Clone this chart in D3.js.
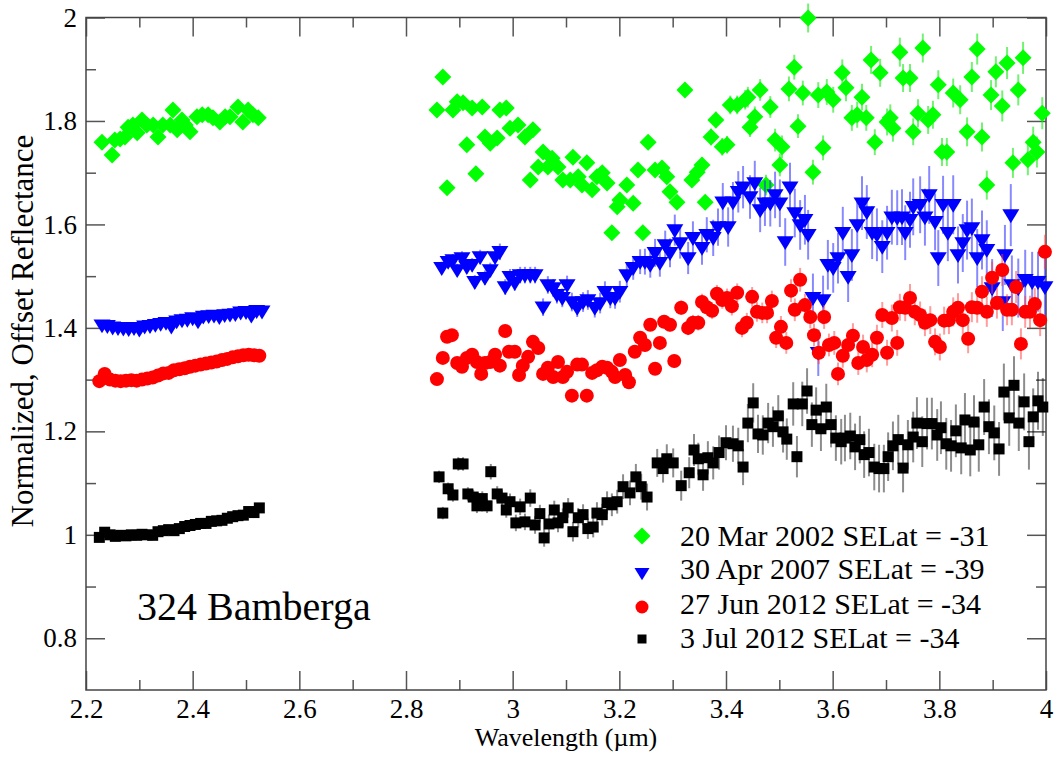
<!DOCTYPE html>
<html>
<head>
<meta charset="utf-8">
<script src="https://cdn.jsdelivr.net/npm/d3@7"></script>
<style>
body { margin: 0; background: #fff; }
svg, svg text { font-family: "Liberation Serif", "Times New Roman", Times, serif; fill: #000; }
</style>
</head>
<body>
<svg id="canvas"></svg>
<script>
let width = 1060
let height = 757
let fontName = '"Liberation Serif", "Times New Roman", Times, serif'

let seriesNames = ['20 Mar 2002 SELat = -31', '30 Apr 2007 SELat = -39', '27 Jun 2012 SELat = -34', '3 Jul 2012 SELat = -34']
let xMajor = [2.2, 2.4, 2.6, 2.8, 3, 3.2, 3.4, 3.6, 3.8, 4]
let xMinor = [2.3, 2.5, 2.7, 2.9, 3.1, 3.3, 3.5, 3.7, 3.9]
let yMajor = [0.8, 1, 1.2, 1.4, 1.6, 1.8, 2]
let yMinor = [0.9, 1.1, 1.3, 1.5, 1.7, 1.9]

// [wavelength, reflectance, error]
let mar2002 = [
  [2.230,1.759,.003],[2.249,1.734,.003],[2.254,1.763,.003],[2.264,1.765,.003],[2.273,1.769,.003],[2.279,1.788,.003],[2.288,1.792,.003],[2.296,1.777,.003],[2.305,1.802,.003],[2.314,1.792,.003],[2.326,1.792,.003],[2.335,1.769,.003],[2.344,1.792,.003],[2.358,1.792,.003],[2.363,1.821,.004],[2.371,1.783,.003],[2.380,1.802,.003],[2.386,1.792,.003],[2.395,1.779,.003],[2.408,1.808,.004],[2.418,1.812,.004],[2.429,1.812,.004],[2.438,1.806,.004],[2.451,1.798,.004],[2.461,1.808,.004],[2.470,1.808,.004],[2.485,1.827,.004],[2.494,1.798,.004],[2.504,1.821,.004],[2.513,1.812,.004],[2.523,1.806,.004],
  [2.858,1.821,.006],[2.869,1.885,.006],[2.877,1.671,.006],[2.888,1.821,.006],[2.896,1.837,.006],[2.907,1.835,.006],[2.914,1.754,.007],[2.924,1.825,.006],[2.931,1.698,.007],[2.943,1.827,.007],[2.948,1.769,.007],[2.958,1.757,.007],[2.971,1.767,.007],[2.976,1.821,.007],[2.988,1.825,.007],[2.995,1.786,.007],[3.010,1.792,.008],[3.023,1.769,.008],[3.033,1.686,.008],[3.038,1.783,.008],[3.048,1.711,.008],[3.057,1.740,.008],[3.066,1.711,.008],[3.074,1.728,.008],[3.085,1.711,.008],[3.094,1.686,.008],[3.108,1.686,.009],[3.113,1.730,.009],[3.123,1.692,.009],[3.130,1.676,.009],[3.139,1.719,.009],[3.149,1.667,.009],[3.158,1.692,.009],[3.168,1.700,.009],[3.177,1.680,.010],[3.186,1.584,.010],[3.196,1.634,.010],[3.201,1.647,.010],[3.214,1.676,.010],[3.226,1.641,.011],[3.235,1.705,.011],[3.244,1.584,.011],[3.254,1.759,.011],[3.267,1.705,.012],[3.280,1.709,.012],[3.289,1.692,.012],[3.295,1.663,.012],[3.308,1.643,.013],[3.323,1.860,.014],[3.336,1.686,.013],[3.346,1.701,.014],[3.355,1.715,.015],[3.361,1.643,.014],[3.372,1.769,.016],[3.381,1.802,.016],[3.393,1.750,.017],[3.402,1.754,.017],[3.408,1.831,.018],[3.421,1.831,.018],[3.436,1.841,.019],[3.441,1.846,.020],[3.445,1.788,.019],[3.454,1.808,.020],[3.464,1.860,.021],[3.475,1.676,.020],[3.483,1.827,.021],[3.492,1.763,.022],[3.501,1.715,.022],[3.505,1.750,.022],[3.518,1.862,.024],[3.528,1.904,.024],[3.535,1.790,.023],[3.544,1.854,.024],[3.554,1.999,.028],[3.563,1.701,.024],[3.573,1.850,.025],[3.582,1.748,.024],[3.589,1.856,.025],[3.601,1.841,.025],[3.618,1.893,.026],[3.625,1.864,.026],[3.636,1.806,.025],[3.646,1.812,.025],[3.655,1.846,.026],[3.663,1.806,.025],[3.672,1.918,.027],[3.679,1.759,.025],[3.689,1.893,.027],[3.702,1.798,.026],[3.708,1.806,.026],[3.713,1.786,.026],[3.726,1.933,.028],[3.732,1.883,.027],[3.745,1.883,.027],[3.751,1.779,.026],[3.760,1.815,.027],[3.769,1.941,.028],[3.779,1.802,.027],[3.788,1.812,.027],[3.798,1.870,.028],[3.805,1.740,.027],[3.814,1.740,.027],[3.826,1.854,.028],[3.839,1.841,.028],[3.852,1.779,.028],[3.861,1.885,.029],[3.871,1.939,.030],[3.880,1.769,.028],[3.889,1.676,.028],[3.897,1.850,.029],[3.906,1.895,.030],[3.918,1.829,.030],[3.927,1.912,.031],[3.938,1.719,.029],[3.948,1.860,.030],[3.957,1.922,.031],[3.966,1.725,.030],[3.976,1.759,.030],[3.983,1.740,.030],[3.993,1.815,.031]
]

let apr2007 = [
  [2.23,1.405,.003],[2.24,1.404,.003],[2.25,1.401,.003],[2.26,1.400,.003],[2.27,1.399,.003],[2.28,1.398,.003],[2.29,1.400,.003],[2.30,1.397,.003],[2.31,1.403,.003],[2.32,1.404,.003],[2.33,1.406,.003],[2.34,1.408,.003],[2.35,1.410,.003],[2.36,1.403,.003],[2.37,1.413,.003],[2.38,1.415,.003],[2.39,1.416,.003],[2.40,1.419,.003],[2.41,1.413,.003],[2.42,1.422,.003],[2.43,1.423,.003],[2.44,1.424,.003],[2.45,1.421,.003],[2.46,1.425,.003],[2.47,1.426,.003],[2.48,1.427,.003],[2.49,1.430,.003],[2.50,1.431,.003],[2.51,1.424,.003],[2.52,1.433,.003],[2.53,1.432,.003],
  [2.867,1.516,.012],[2.879,1.528,.012],[2.888,1.531,.012],[2.896,1.512,.012],[2.905,1.535,.013],[2.914,1.518,.013],[2.924,1.522,.013],[2.929,1.489,.013],[2.939,1.537,.014],[2.948,1.497,.014],[2.958,1.512,.014],[2.967,1.537,.015],[2.976,1.547,.016],[2.986,1.479,.015],[2.995,1.499,.015],[3.004,1.487,.015],[3.014,1.502,.016],[3.023,1.502,.016],[3.033,1.502,.016],[3.042,1.502,.016],[3.057,1.440,.017],[3.066,1.483,.017],[3.076,1.477,.017],[3.083,1.464,.017],[3.093,1.458,.018],[3.102,1.483,.018],[3.111,1.450,.018],[3.121,1.439,.018],[3.132,1.450,.019],[3.141,1.454,.019],[3.154,1.439,.019],[3.164,1.448,.020],[3.173,1.470,.020],[3.183,1.458,.020],[3.192,1.458,.021],[3.201,1.470,.021],[3.214,1.502,.022],[3.226,1.516,.023],[3.239,1.528,.024],[3.248,1.528,.025],[3.258,1.522,.025],[3.267,1.545,.027],[3.276,1.526,.027],[3.286,1.560,.028],[3.295,1.545,.028],[3.304,1.589,.030],[3.314,1.564,.030],[3.329,1.535,.031],[3.338,1.574,.032],[3.355,1.555,.033],[3.364,1.580,.034],[3.376,1.574,.035],[3.385,1.595,.036],[3.394,1.643,.037],[3.404,1.595,.038],[3.413,1.643,.039],[3.423,1.663,.040],[3.432,1.672,.041],[3.445,1.653,.042],[3.454,1.680,.043],[3.464,1.628,.043],[3.473,1.641,.044],[3.483,1.641,.045],[3.492,1.657,.045],[3.501,1.641,.046],[3.511,1.566,.046],[3.520,1.672,.047],[3.529,1.622,.047],[3.539,1.599,.048],[3.548,1.609,.048],[3.554,1.580,.048],[3.563,1.458,.047],[3.573,1.352,.045],[3.582,1.454,.047],[3.591,1.522,.048],[3.601,1.516,.048],[3.610,1.535,.049],[3.619,1.584,.050],[3.629,1.499,.049],[3.636,1.541,.050],[3.646,1.599,.051],[3.655,1.641,.052],[3.664,1.624,.052],[3.674,1.584,.051],[3.683,1.580,.051],[3.693,1.557,.051],[3.702,1.584,.052],[3.711,1.614,.053],[3.721,1.613,.053],[3.730,1.614,.054],[3.736,1.584,.053],[3.745,1.609,.054],[3.751,1.634,.055],[3.764,1.638,.055],[3.773,1.614,.055],[3.781,1.657,.056],[3.792,1.605,.055],[3.798,1.535,.054],[3.807,1.638,.056],[3.816,1.584,.055],[3.826,1.638,.057],[3.835,1.541,.055],[3.844,1.564,.056],[3.852,1.589,.057],[3.861,1.593,.057],[3.871,1.535,.056],[3.880,1.570,.057],[3.889,1.551,.057],[3.899,1.477,.056],[3.919,1.450,.056],[3.923,1.541,.058],[3.934,1.618,.060],[3.936,1.483,.057],[3.948,1.477,.057],[3.961,1.493,.058],[3.974,1.489,.058],[3.985,1.489,.058],[3.998,1.479,.058]
]

let jun2012 = [
  [2.225,1.297,.003],[2.235,1.311,.003],[2.245,1.300,.003],[2.255,1.298,.003],[2.265,1.297,.003],[2.275,1.298,.003],[2.285,1.299,.003],[2.295,1.298,.003],[2.305,1.300,.003],[2.315,1.302,.003],[2.325,1.304,.003],[2.335,1.308,.003],[2.345,1.312,.003],[2.355,1.313,.003],[2.365,1.318,.003],[2.375,1.320,.003],[2.385,1.322,.003],[2.395,1.325,.003],[2.405,1.327,.003],[2.415,1.329,.003],[2.425,1.331,.003],[2.435,1.333,.003],[2.445,1.335,.003],[2.455,1.338,.003],[2.465,1.340,.003],[2.475,1.343,.003],[2.485,1.345,.003],[2.495,1.347,.003],[2.505,1.348,.003],[2.515,1.347,.003],[2.525,1.346,.003],
  [2.858,1.301,.005],[2.869,1.342,.005],[2.877,1.383,.005],[2.886,1.386,.005],[2.896,1.332,.005],[2.905,1.325,.005],[2.914,1.342,.005],[2.924,1.348,.006],[2.933,1.334,.006],[2.941,1.311,.006],[2.948,1.332,.006],[2.958,1.334,.006],[2.967,1.348,.006],[2.976,1.327,.006],[2.986,1.394,.006],[2.993,1.354,.006],[3.004,1.354,.007],[3.012,1.309,.007],[3.019,1.327,.007],[3.029,1.344,.007],[3.038,1.373,.007],[3.048,1.361,.007],[3.057,1.311,.007],[3.066,1.323,.007],[3.076,1.305,.008],[3.085,1.334,.008],[3.094,1.305,.008],[3.102,1.315,.008],[3.111,1.269,.008],[3.121,1.329,.008],[3.130,1.329,.008],[3.139,1.269,.008],[3.149,1.313,.009],[3.158,1.318,.009],[3.168,1.325,.009],[3.177,1.323,.009],[3.186,1.315,.009],[3.192,1.305,.010],[3.201,1.338,.010],[3.211,1.309,.010],[3.218,1.295,.010],[3.229,1.354,.011],[3.239,1.381,.011],[3.248,1.367,.011],[3.258,1.406,.012],[3.267,1.321,.012],[3.276,1.371,.012],[3.284,1.412,.013],[3.295,1.406,.013],[3.303,1.336,.013],[3.316,1.439,.014],[3.329,1.400,.014],[3.338,1.410,.015],[3.348,1.410,.015],[3.355,1.450,.016],[3.364,1.440,.016],[3.374,1.433,.016],[3.383,1.466,.017],[3.393,1.454,.017],[3.402,1.458,.018],[3.411,1.442,.018],[3.421,1.468,.018],[3.430,1.400,.018],[3.439,1.410,.019],[3.449,1.460,.019],[3.458,1.431,.019],[3.468,1.429,.020],[3.477,1.429,.020],[3.486,1.452,.020],[3.494,1.381,.020],[3.503,1.402,.021],[3.513,1.371,.021],[3.522,1.472,.022],[3.529,1.435,.022],[3.539,1.493,.023],[3.548,1.444,.022],[3.558,1.421,.022],[3.565,1.386,.022],[3.574,1.352,.022],[3.584,1.421,.023],[3.593,1.367,.022],[3.603,1.371,.023],[3.610,1.311,.022],[3.619,1.346,.023],[3.629,1.367,.023],[3.638,1.385,.024],[3.648,1.332,.023],[3.657,1.363,.024],[3.664,1.338,.024],[3.674,1.348,.024],[3.683,1.381,.025],[3.693,1.425,.025],[3.702,1.352,.025],[3.711,1.419,.026],[3.721,1.371,.025],[3.726,1.440,.026],[3.736,1.439,.026],[3.745,1.458,.027],[3.754,1.431,.026],[3.764,1.425,.026],[3.773,1.410,.026],[3.783,1.415,.027],[3.792,1.373,.026],[3.801,1.363,.026],[3.809,1.414,.027],[3.818,1.415,.027],[3.826,1.431,.028],[3.835,1.439,.028],[3.844,1.415,.028],[3.854,1.379,.028],[3.861,1.440,.029],[3.871,1.439,.029],[3.880,1.470,.030],[3.889,1.431,.029],[3.899,1.497,.031],[3.908,1.448,.030],[3.918,1.512,.031],[3.927,1.435,.030],[3.936,1.435,.030],[3.944,1.479,.031],[3.953,1.369,.030],[3.961,1.431,.031],[3.970,1.431,.031],[3.979,1.446,.031],[3.989,1.415,.031],[3.998,1.547,.033]
]

let jul2012 = [
  [2.225,0.995,.003],[2.235,1.005,.003],[2.245,1.000,.003],[2.255,0.997,.003],[2.265,0.999,.003],[2.275,0.998,.003],[2.285,1.000,.003],[2.295,0.999,.003],[2.305,1.001,.003],[2.315,1.000,.003],[2.325,0.999,.003],[2.335,1.006,.003],[2.345,1.008,.003],[2.355,1.010,.003],[2.365,1.008,.003],[2.375,1.012,.003],[2.385,1.016,.003],[2.395,1.018,.003],[2.405,1.020,.003],[2.415,1.022,.003],[2.425,1.022,.003],[2.435,1.026,.003],[2.445,1.027,.003],[2.455,1.028,.003],[2.465,1.032,.003],[2.475,1.035,.003],[2.485,1.037,.003],[2.495,1.038,.003],[2.505,1.045,.003],[2.515,1.043,.003],[2.525,1.052,.003],
  [2.862,1.112,.012],[2.869,1.042,.012],[2.879,1.089,.012],[2.888,1.077,.013],[2.898,1.137,.013],[2.907,1.137,.013],[2.916,1.079,.013],[2.926,1.073,.014],[2.933,1.056,.014],[2.943,1.070,.014],[2.952,1.056,.014],[2.959,1.122,.015],[2.971,1.079,.015],[2.980,1.071,.015],[2.988,1.048,.015],[2.995,1.064,.016],[3.006,1.023,.016],[3.014,1.054,.016],[3.023,1.025,.016],[3.033,1.071,.017],[3.042,1.019,.017],[3.051,1.041,.017],[3.059,0.994,.017],[3.068,1.021,.018],[3.078,1.048,.018],[3.085,1.023,.018],[3.094,1.033,.018],[3.104,1.052,.019],[3.113,1.006,.019],[3.123,1.033,.019],[3.132,1.039,.020],[3.141,1.012,.020],[3.151,1.015,.020],[3.158,1.042,.021],[3.168,1.039,.021],[3.177,1.062,.022],[3.186,1.058,.022],[3.196,1.064,.023],[3.207,1.093,.024],[3.220,1.081,.024],[3.231,1.112,.025],[3.241,1.093,.025],[3.252,1.073,.026],[3.271,1.139,.027],[3.282,1.128,.027],[3.289,1.147,.028],[3.301,1.139,.028],[3.316,1.095,.029],[3.331,1.120,.030],[3.340,1.164,.031],[3.348,1.147,.031],[3.357,1.116,.031],[3.366,1.149,.032],[3.376,1.139,.032],[3.387,1.159,.033],[3.400,1.178,.034],[3.413,1.176,.035],[3.423,1.172,.035],[3.432,1.131,.035],[3.441,1.216,.037],[3.451,1.255,.038],[3.460,1.195,.037],[3.469,1.193,.038],[3.479,1.216,.039],[3.488,1.209,.039],[3.498,1.230,.040],[3.507,1.199,.040],[3.514,1.185,.040],[3.526,1.253,.042],[3.533,1.151,.040],[3.543,1.253,.043],[3.552,1.278,.044],[3.561,1.213,.043],[3.569,1.241,.044],[3.578,1.205,.043],[3.588,1.247,.045],[3.597,1.213,.044],[3.606,1.187,.044],[3.616,1.180,.044],[3.623,1.187,.045],[3.633,1.191,.045],[3.642,1.170,.045],[3.651,1.184,.046],[3.659,1.155,.045],[3.668,1.159,.046],[3.678,1.131,.045],[3.687,1.128,.046],[3.696,1.128,.046],[3.704,1.151,.047],[3.713,1.172,.047],[3.723,1.184,.048],[3.732,1.129,.047],[3.741,1.174,.048],[3.751,1.189,.049],[3.758,1.216,.050],[3.768,1.180,.049],[3.777,1.215,.050],[3.786,1.215,.050],[3.796,1.193,.050],[3.803,1.207,.051],[3.813,1.176,.050],[3.822,1.172,.050],[3.831,1.201,.051],[3.841,1.168,.051],[3.848,1.222,.052],[3.858,1.164,.051],[3.865,1.218,.052],[3.874,1.174,.052],[3.884,1.247,.054],[3.893,1.209,.053],[3.903,1.197,.053],[3.912,1.166,.052],[3.921,1.276,.055],[3.931,1.226,.054],[3.940,1.289,.056],[3.949,1.216,.054],[3.959,1.257,.055],[3.968,1.180,.054],[3.976,1.228,.055],[3.985,1.259,.056],[3.994,1.247,.056]
]

let plotLeft = 86
let plotRight = 1046
let plotTop = 17.5
let plotBottom = 690

let svg = d3.select('#canvas')
svg.attr('width', width)
svg.attr('height', height)
svg.attr('font-family', fontName)

let xScale = d3.scaleLinear().domain([2.2, 4]).range([plotLeft, plotRight])
let yScale = d3.scaleLinear().domain([0.7, 2]).range([plotBottom, plotTop])

let shapes = {
    diamond: (s) => `M0,${-s}L${s},0L0,${s}L${-s},0Z`,
    triangle: (s) => `M${-s},${-s * 0.68}L${s},${-s * 0.68}L0,${s * 0.95}Z`,
    circle: (s) => `M${-s},0A${s},${s} 0 1,0 ${s},0A${s},${s} 0 1,0 ${-s},0Z`,
    square: (s) => `M${-s},${-s}H${s}V${s}H${-s}Z`
}

let series = [
    { name: seriesNames[0], data: mar2002, color: '#00ff00', bar: 'rgba(0,230,0,0.55)', shape: 'diamond', size: 8.5, legendSize: 8.5 },
    { name: seriesNames[1], data: apr2007, color: '#0000ff', bar: 'rgba(40,40,255,0.55)', shape: 'triangle', size: 8.5, legendSize: 7.5 },
    { name: seriesNames[2], data: jun2012, color: '#ff0000', bar: 'rgba(255,60,60,0.5)', shape: 'circle', size: 7, legendSize: 6.5 },
    { name: seriesNames[3], data: jul2012, color: '#000000', bar: 'rgba(0,0,0,0.45)', shape: 'square', size: 5.5, legendSize: 4.5 }
]

let drawAxes = () => {
    let styleTicks = (g) => {
        g.attr('font-family', fontName)
        g.select('.domain').remove()
        g.selectAll('line').attr('stroke', '#555').attr('stroke-width', 1.5)
        g.selectAll('text').attr('font-size', 27).attr('font-family', fontName).attr('fill', '#000')
    }

    svg.append('g')
        .attr('transform', 'translate(0,' + plotBottom + ')')
        .call(d3.axisBottom(xScale).tickValues(xMajor).tickSize(-19).tickPadding(9).tickFormat(d3.format('~g')))
        .call(styleTicks)
    svg.append('g')
        .attr('transform', 'translate(0,' + plotBottom + ')')
        .call(d3.axisBottom(xScale).tickValues(xMinor).tickSize(-10).tickFormat(''))
        .call(styleTicks)
    svg.append('g')
        .attr('transform', 'translate(0,' + plotTop + ')')
        .call(d3.axisTop(xScale).tickValues(xMajor).tickSize(-19).tickFormat(''))
        .call(styleTicks)
    svg.append('g')
        .attr('transform', 'translate(0,' + plotTop + ')')
        .call(d3.axisTop(xScale).tickValues(xMinor).tickSize(-10).tickFormat(''))
        .call(styleTicks)

    svg.append('g')
        .attr('transform', 'translate(' + plotLeft + ',0)')
        .call(d3.axisLeft(yScale).tickValues(yMajor).tickSize(-19).tickPadding(9).tickFormat(d3.format('~g')))
        .call(styleTicks)
    svg.append('g')
        .attr('transform', 'translate(' + plotLeft + ',0)')
        .call(d3.axisLeft(yScale).tickValues(yMinor).tickSize(-10).tickFormat(''))
        .call(styleTicks)
    svg.append('g')
        .attr('transform', 'translate(' + plotRight + ',0)')
        .call(d3.axisRight(yScale).tickValues(yMajor).tickSize(-19).tickFormat(''))
        .call(styleTicks)
    svg.append('g')
        .attr('transform', 'translate(' + plotRight + ',0)')
        .call(d3.axisRight(yScale).tickValues(yMinor).tickSize(-10).tickFormat(''))
        .call(styleTicks)

    svg.append('rect')
        .attr('x', plotLeft)
        .attr('y', plotTop)
        .attr('width', plotRight - plotLeft)
        .attr('height', plotBottom - plotTop)
        .attr('fill', 'none')
        .attr('stroke', '#444')
        .attr('stroke-width', 1.5)

    svg.append('text')
        .attr('x', (plotLeft + plotRight) / 2)
        .attr('y', 746)
        .attr('text-anchor', 'middle')
        .attr('font-size', 26)
        .text('Wavelength (\u00b5m)')

    svg.append('text')
        .attr('transform', 'translate(33,' + 331 + ') rotate(-90)')
        .attr('text-anchor', 'middle')
        .attr('font-size', 31)
        .text('Normalized, Offset Reflectance')
}

let drawPoints = () => {
    series.forEach((s) => {
        let g = svg.append('g')
        g.selectAll('line')
            .data(s.data)
            .enter()
            .append('line')
            .attr('x1', (d) => xScale(d[0]))
            .attr('x2', (d) => xScale(d[0]))
            .attr('y1', (d) => yScale(d[1] - d[2]))
            .attr('y2', (d) => yScale(d[1] + d[2]))
            .attr('stroke', s.bar)
            .attr('stroke-width', 2)

        g.selectAll('path')
            .data(s.data)
            .enter()
            .append('path')
            .attr('d', shapes[s.shape](s.size))
            .attr('transform', (d) => 'translate(' + xScale(d[0]) + ',' + yScale(d[1]) + ')')
            .attr('fill', s.color)
    })
}

let drawLegend = () => {
    let markY = [536, 573, 607, 639]
    let textY = [546, 579, 614, 648]
    let legend = svg.append('g')
    series.forEach((s, i) => {
        legend.append('path')
            .attr('d', shapes[s.shape](s.legendSize))
            .attr('transform', 'translate(642,' + markY[i] + ')')
            .attr('fill', s.color)
        legend.append('text')
            .attr('x', 680)
            .attr('y', textY[i])
            .attr('font-size', 30)
            .text(s.name)
    })

    svg.append('text')
        .attr('x', 137)
        .attr('y', 620)
        .attr('font-size', 40)
        .text('324 Bamberga')
}

drawAxes()
drawPoints()
drawLegend()
</script>
</body>
</html>
